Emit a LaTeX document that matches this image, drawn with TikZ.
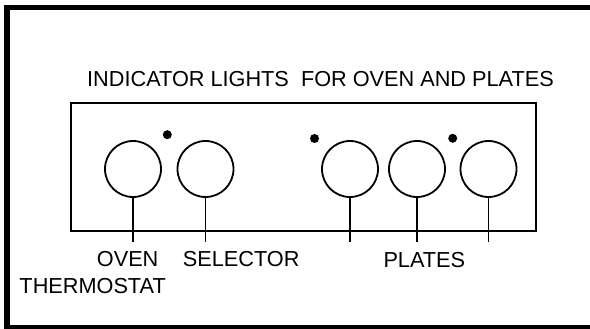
\documentclass[tikz,border=0pt]{standalone}
\usepackage{fontspec}
\setmainfont{Liberation Sans}
\begin{document}
\begin{tikzpicture}[x=1pt,y=-1pt,
  knob/.style={circle,draw,line width=1.8pt,minimum size=56pt,inner sep=0pt},
  lamp/.style={circle,fill=black,minimum size=9pt,inner sep=0pt},
  stem/.style={line width=1.8pt},
  lbl/.style={anchor=base west,inner sep=0pt,font=\fontsize{21.7}{26}\selectfont}]
\useasboundingbox (0,0) rectangle (590,329);
% outer frame (right side cut off)
\draw[line width=5.5pt] (600,7.5) -- (6.8,7.5) -- (6.8,327.5) -- (600,327.5);
% panel
\coordinate (ptl) at (71,103);
\coordinate (pbr) at (536,231);
\draw[line width=1.7pt] (ptl) rectangle (pbr);
\draw[line width=2.7pt] (536,103) -- (pbr) -- (71,231);
% title
\node[lbl] (title) at (87,86.7) {INDICATOR LIGHTS\ \ FOR OVEN AND PLATES};
% knobs
\node[knob] (oven) at (133,169) {};
\node[knob] (sel) at (205.5,169) {};
\node[knob] (p1) at (350,169) {};
\node[knob] (p2) at (417,169) {};
\node[knob] (p3) at (488.5,169) {};
% indicator lights
\node[lamp] (l1) at (167.3,134.7) {};
\node[lamp] (l2) at (314.5,138.5) {};
\node[lamp] (l3) at (452.7,138.3) {};
% stems
\foreach \k in {oven,sel,p1,p2,p3}{
  \coordinate (\k e) at ([yshift=-44pt]\k.south);
  \draw[stem] (\k.south) -- (\k e);
}
% labels
\node[lbl] (ovenl) at (96.7,266.7) {OVEN};
\node[lbl] (sell) at (182.7,266.7) {SELECTOR};
\node[lbl] (therml) at (19.3,293.3) {THERMOSTAT};
\node[lbl] (platesl) at (383.3,267.3) {PLATES};
\end{tikzpicture}
\end{document}
